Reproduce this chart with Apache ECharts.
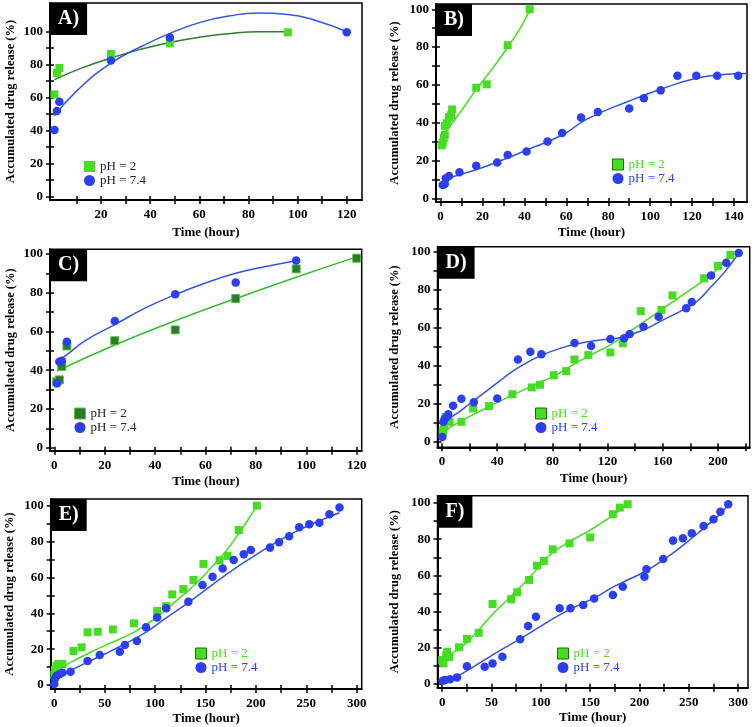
<!DOCTYPE html>
<html><head><meta charset="utf-8">
<script src="https://cdn.jsdelivr.net/npm/echarts@6/dist/echarts.min.js"></script>
<style>html,body{margin:0;padding:0;background:#fff}#c{width:756px;height:727px}</style>
</head><body><div id="c"></div>
<script>
// ---------- DATA ----------
const yLabels = [0, 20, 40, 60, 80, 100];
const yTicks = [0, 10, 20, 30, 40, 50, 60, 70, 80, 90, 100];
const seriesNames = ['pH = 2', 'pH = 7.4'];
const panelLetters = ['A)', 'B)', 'C)', 'D)', 'E)', 'F)'];
const xTitle = 'Time (hour)';
const yTitle = 'Accumulated drug release (%)';

// Panel A
const A_xLabels = [20, 40, 60, 80, 100, 120];
const A_xTicks = [10, 20, 30, 40, 50, 60, 70, 80, 90, 100, 110, 120];
const A_ph2 = [[1, 62], [2, 75], [3, 78], [24, 86.5], [48, 93], [96, 99.6]];
const A_ph74 = [[1, 40.5], [2, 52], [3, 57.5], [24, 82.5], [48, 96.5], [120, 99.6]];
const A_fit2 = [[1, 71], [12, 77.9], [24, 84.1], [36, 89.3], [48, 93.5], [60, 96.7], [72, 98.8], [84, 99.9], [96, 99.9]];
const A_fit74 = [[1, 49], [10, 64], [24, 81], [37, 91.5], [48, 99], [60, 105.5], [72, 109.5], [84, 111.3], [96, 110.5], [108, 106.5], [120, 100]];

// Panel B
const B_xLabels = [0, 20, 40, 60, 80, 100, 120, 140];
const B_xTicks = [0, 10, 20, 30, 40, 50, 60, 70, 80, 90, 100, 110, 120, 130, 140];
const B_ph2 = [[0.5, 28], [1, 29.5], [1.5, 32], [2, 33.5], [2, 38.3], [3, 39.7], [4, 43], [5, 44], [5.5, 47], [17, 58.5], [22, 60.3], [32, 81], [42.5, 100]];
const B_ph74 = [[1, 7], [2, 7.6], [2.5, 10.6], [4, 11.8], [9, 13.8], [17, 17.2], [27, 19], [32, 22.9], [41, 24.7], [51, 30], [58, 34.6], [67, 42.8], [75, 45.7], [90, 47.5], [97, 52.9], [105, 57.1], [113, 64.9], [122, 64.9], [132, 64.9], [142, 64.9]];
const B_fit2 = [[0.5, 32], [5, 39], [10, 46.5], [17, 57.5], [25, 69], [32, 80], [38, 90], [42.5, 99.5]];
const B_fit74 = [[1, 9.7], [9, 12.5], [18, 15.5], [27, 19.2], [41, 25.5], [58, 33.5], [70, 42], [90, 51.5], [105, 57.7], [122, 63.5], [135, 65.5], [146, 66]];

// Panel C
const C_xLabels = [0, 20, 40, 60, 80, 100, 120];
const C_xTicks = [0, 10, 20, 30, 40, 50, 60, 70, 80, 90, 100, 110, 120];
const C_ph2 = [[1, 34], [2, 35], [3, 42], [5, 52.5], [24, 55.2], [48, 60.8], [72, 77], [96, 92.3], [120, 97.8]];
const C_ph74 = [[1, 33.2], [2, 44.4], [3, 44.9], [5, 54.7], [24, 65.4], [48, 79.2], [72, 85.2], [96, 96.6]];
const C_fit2 = [[1, 39.5], [24, 53], [48, 65.5], [72, 77], [96, 88], [120, 98.5]];
const C_fit74 = [[1, 44.4], [5, 48], [12, 55], [24, 63.5], [36, 72], [48, 79], [60, 85], [72, 90], [84, 93.5], [96, 96.5]];

// Panel D
const D_xLabels = [0, 40, 80, 120, 160, 200];
const D_xTicks = [0, 20, 40, 60, 80, 100, 120, 140, 160, 180, 200, 220];
const D_ph2 = [[0.5, 5], [1, 6.5], [1.5, 8.3], [2.5, 13], [5.5, 10.5], [14, 10.5], [22.5, 17.5], [34, 18.8], [51, 25], [65, 28.6], [71, 30], [81, 35], [90, 37.2], [96, 43.3], [106, 45.6], [122, 47], [131, 51.8], [144, 68.7], [159, 69.3], [167, 77], [190, 86], [200, 92.5], [209, 98.3]];
const D_ph74 = [[0.2, 2.5], [1, 10.5], [2, 12.3], [3.5, 13.2], [4.5, 14.5], [8, 19], [14, 22.6], [23, 20.8], [40, 22.8], [55, 43.3], [64, 47.3], [72, 46], [96, 52], [108, 50.4], [122, 54], [132, 54.4], [136, 56.7], [146, 60.5], [157, 65.8], [177, 70.2], [181, 73.5], [195, 87.5], [206, 94.2], [215, 99.3]];
const D_fit2 = [[0, 5], [14, 11], [34, 18.5], [51, 24.5], [70, 31], [81, 34.5], [96, 41], [110, 46.5], [122, 51], [135, 57.5], [148, 64], [160, 70], [175, 77.5], [190, 85], [200, 91], [209, 98.5]];
const D_fit74 = [[0, 10], [10, 14.5], [20, 20], [30, 25.5], [40, 31], [50, 36.5], [60, 41], [70, 44.8], [85, 49], [100, 51.8], [115, 53.5], [130, 55], [145, 58.5], [160, 64], [175, 69.5], [185, 74], [195, 81.5], [205, 89.5], [215, 99]];

// Panel E
const E_xLabels = [0, 50, 100, 150, 200, 250, 300];
const E_xTicks = [0, 25, 50, 75, 100, 125, 150, 175, 200, 225, 250, 275, 300];
const E_ph2 = [[0, 5.6], [0.7, 8.4], [2, 10.6], [4, 11.7], [8, 11.7], [19, 19], [27, 21], [33, 29.4], [43, 29.7], [58, 31], [79, 34.4], [102, 41.3], [111, 44], [117, 50.5], [128, 53.5], [138, 58.6], [148, 67.5], [164, 69.5], [172, 72], [183, 86.4], [201, 100]];
const E_ph74 = [[0, 0.6], [0.7, 3.7], [2, 5], [5, 6], [8, 6.9], [16, 7.4], [33, 13.4], [45, 16.7], [65, 18.6], [70, 22.3], [82, 24.5], [91, 32.2], [102, 37.7], [111, 42.8], [133, 46.5], [147, 55.8], [157, 60.4], [167, 65], [178, 69.7], [188, 72.9], [195, 75.3], [214, 76.6], [223, 79.6], [233, 83], [243, 87.9], [253, 89.6], [263, 90.5], [273, 95.2], [283, 98.9]];
const E_fit2 = [[0, 6.5], [8, 10], [19, 13.5], [35, 18], [52, 22.5], [79, 29.5], [102, 38], [118, 45.5], [138, 55.2], [158, 66.9], [170, 74.5], [183, 84.5], [192, 92], [201, 100]];
const E_fit74 = [[0, 2], [8, 5.3], [16, 8], [33, 12.8], [50, 17.3], [65, 21.5], [91, 29.5], [111, 37.5], [133, 46], [157, 56], [178, 64.5], [200, 72.5], [220, 79.5], [243, 86.5], [263, 91.5], [283, 96]];

// Panel F
const F_xLabels = [0, 50, 100, 150, 200, 250, 300];
const F_xTicks = [0, 25, 50, 75, 100, 125, 150, 175, 200, 225, 250, 275, 300];
const F_ph2 = [[0, 13.3], [1.3, 11.4], [4, 16], [5, 17.8], [7, 15], [17, 20.3], [25, 25], [37, 28.3], [51, 44.2], [70, 46.8], [76, 50.7], [88, 57.5], [96, 65.4], [103, 68], [112, 74.4], [129, 77.7], [150, 81], [173, 93.8], [180, 97.4], [188, 99.3]];
const F_ph74 = [[0.6, 1.8], [3, 2.2], [8, 2.6], [15, 3.7], [25, 9.9], [43, 9.6], [51, 11.4], [61, 15.1], [79, 24.7], [87, 32], [95, 37.2], [119, 41.8], [130, 41.8], [143, 43.6], [154, 47.3], [173, 49.2], [183, 53.8], [205, 59.3], [207, 63.4], [224, 69.1], [234, 79.2], [244, 80.5], [253, 83.3], [265, 87.3], [275, 91], [282, 95.2], [290, 99.3]];
const F_fit2 = [[0, 12.5], [10, 17], [25, 23], [37, 30], [51, 38.5], [65, 46], [77, 52.5], [88, 58.5], [100, 66], [112, 72.5], [130, 79], [150, 85], [170, 92], [188, 99.5]];
const F_fit74 = [[0, 1.5], [15, 4.3], [30, 9], [45, 14], [60, 19], [79, 25], [100, 32], [120, 38.5], [140, 44], [154, 47.5], [173, 53.5], [190, 58], [205, 62], [224, 68.5], [245, 77], [265, 86], [280, 93], [290, 99]];

// ---------- LAYOUT / STYLE ----------
const FONT = 'Liberation Serif';
const GREEN = '#44dd22', BLUE = '#2b3ff0', BLUE_LINE = '#3355e0';
const panels = [
  {grid: [50, 3, 312, 197], x: [-0.8, 126.2], y: [-2, 117.4], xL: A_xLabels, xT: A_xTicks, d2: A_ph2, d74: A_ph74, f2: A_fit2, f74: A_fit74,
   sq: GREEN, sqB: GREEN, l2: '#2e7d2e', leg: [84, 160], legTxt: ['#222', '#222'], yGap: 33, xGap: 26},
  {grid: [436, 4, 311, 198], x: [-2.2, 146.2], y: [-1.96, 102.8], xL: B_xLabels, xT: B_xTicks, d2: B_ph2, d74: B_ph74, f2: B_fit2, f74: B_fit74,
   sq: GREEN, sqB: '#226611', l2: GREEN, leg: [612, 158], legTxt: [GREEN, BLUE], yGap: 35, xGap: 24},
  {grid: [50, 249.3, 311.7, 201.4], x: [-1.7, 122], y: [-1.55, 102.4], xL: C_xLabels, xT: C_xTicks, d2: C_ph2, d74: C_ph74, f2: C_fit2, f74: C_fit74,
   sq: '#2a7a2a', sqB: '#5fbf3f', l2: '#33bb33', leg: [74, 407], legTxt: ['#222', '#222'], yGap: 33, xGap: 24},
  {grid: [437.5, 246.7, 312.2, 200.6], x: [-3.3, 223], y: [-2.9, 102.6], xL: D_xLabels, xT: D_xTicks, d2: D_ph2, d74: D_ph74, f2: D_fit2, f74: D_fit74,
   sq: GREEN, sqB: '#226611', l2: GREEN, leg: [535, 407], legTxt: [GREEN, BLUE], yGap: 36, xGap: 25},
  {grid: [50.7, 499, 311, 190], x: [-3.6, 305], y: [-2.2, 103.7], xL: E_xLabels, xT: E_xTicks, d2: E_ph2, d74: E_ph74, f2: E_fit2, f74: E_fit74,
   sq: GREEN, sqB: '#226611', l2: GREEN, leg: [195, 647], legTxt: [GREEN, BLUE], yGap: 34, xGap: 23},
  {grid: [437.5, 495.7, 310.5, 192], x: [-4.8, 310], y: [-2, 104], xL: F_xLabels, xT: F_xTicks, d2: F_ph2, d74: F_ph74, f2: F_fit2, f74: F_fit74,
   sq: GREEN, sqB: '#226611', l2: GREEN, leg: [557, 647], legTxt: [GREEN, BLUE], yGap: 36, xGap: 23}
];

const labelStyle = {fontFamily: FONT, fontWeight: 'bold', fontSize: 13, color: '#000'};
const grids = [], xAxes = [], yAxes = [], series = [], titles = [], legends = [];

panels.forEach((p, i) => {
  grids.push({left: p.grid[0], top: p.grid[1], width: p.grid[2], height: p.grid[3], show: true,
    borderColor: '#000', borderWidth: 1.5, backgroundColor: 'transparent', containLabel: false});
  const xBase = {gridIndex: i, type: 'value', min: p.x[0], max: p.x[1], position: 'bottom', splitLine: {show: false}};
  const yBase = {gridIndex: i, type: 'value', min: p.y[0], max: p.y[1], position: 'left', splitLine: {show: false}};
  xAxes.push(Object.assign({}, xBase, {
    axisLine: {show: true, onZero: false, lineStyle: {color: '#000', width: 2}},
    axisTick: {show: true, inside: false, length: 4, customValues: p.xT, lineStyle: {color: '#000', width: 1.5}},
    axisLabel: Object.assign({show: true, customValues: p.xL, margin: 8}, labelStyle),
    name: xTitle, nameLocation: 'middle', nameGap: p.xGap, nameTextStyle: Object.assign({}, labelStyle)
  }));
  xAxes.push(Object.assign({}, xBase, {
    axisLine: {show: false, onZero: false},
    axisTick: {show: true, inside: true, length: 4, customValues: p.xT, lineStyle: {color: '#000', width: 1.5}},
    axisLabel: {show: false}
  }));
  yAxes.push(Object.assign({}, yBase, {
    axisLine: {show: true, onZero: false, lineStyle: {color: '#000', width: 2}},
    axisTick: {show: true, inside: false, length: 4, customValues: yTicks, lineStyle: {color: '#000', width: 1.5}},
    axisLabel: Object.assign({show: true, customValues: yLabels, margin: 7}, labelStyle),
    name: yTitle, nameLocation: 'middle', nameGap: p.yGap, nameTextStyle: Object.assign({}, labelStyle, {fontSize: 12.5})
  }));
  yAxes.push(Object.assign({}, yBase, {
    axisLine: {show: false, onZero: false},
    axisTick: {show: true, inside: true, length: 4, customValues: yTicks, lineStyle: {color: '#000', width: 1.5}},
    axisLabel: {show: false}
  }));
  const xi = 2 * i, yi = 2 * i;
  series.push({type: 'line', name: 'fit2_' + i, xAxisIndex: xi, yAxisIndex: yi, data: p.f2, smooth: true, symbol: 'none',
    lineStyle: {color: p.l2, width: 1.5}, silent: true, z: 2});
  series.push({type: 'line', name: 'fit74_' + i, xAxisIndex: xi, yAxisIndex: yi, data: p.f74, smooth: true, symbol: 'none',
    lineStyle: {color: BLUE_LINE, width: 1.5}, silent: true, z: 2});
  series.push({type: 'scatter', name: seriesNames[0], xAxisIndex: xi, yAxisIndex: yi, data: p.d2, symbol: 'rect', symbolSize: 8,
    itemStyle: {color: p.sq, borderColor: p.sq === GREEN ? GREEN : p.sqB, borderWidth: p.sq === GREEN ? 0 : 1, opacity: 1}, z: 3});
  series.push({type: 'scatter', name: seriesNames[1], xAxisIndex: xi, yAxisIndex: yi, data: p.d74, symbol: 'circle', symbolSize: 8.5,
    itemStyle: {color: BLUE, opacity: 1}, z: 4});
  titles.push({text: panelLetters[i], left: p.grid[0], top: p.grid[1], backgroundColor: '#000', padding: [4, 8, 4, 8],
    textStyle: {color: '#fff', fontFamily: FONT, fontWeight: 'bold', fontSize: 20, lineHeight: 24}});
  legends.push({orient: 'vertical', left: p.leg[0], top: p.leg[1], itemWidth: 11, itemHeight: 11, itemGap: 1, itemTextGap: 10,
    selectedMode: false, padding: 0,
    textStyle: {fontFamily: FONT, fontSize: 13, color: '#222'},
    data: [
      {name: seriesNames[0], icon: 'rect', itemStyle: {color: p.sq, borderColor: p.sqB, borderWidth: i === 0 ? 0 : 1}, textStyle: {color: p.legTxt[0]}},
      {name: seriesNames[1], icon: 'circle', itemStyle: {color: BLUE, borderWidth: 0}, textStyle: {color: p.legTxt[1]}}
    ]});
});

const chart = echarts.init(document.getElementById('c'), null, {renderer: 'canvas'});
chart.setOption({
  animation: false, backgroundColor: '#fff',
  title: titles, legend: legends, grid: grids, xAxis: xAxes, yAxis: yAxes, series: series
});
</script></body></html>
